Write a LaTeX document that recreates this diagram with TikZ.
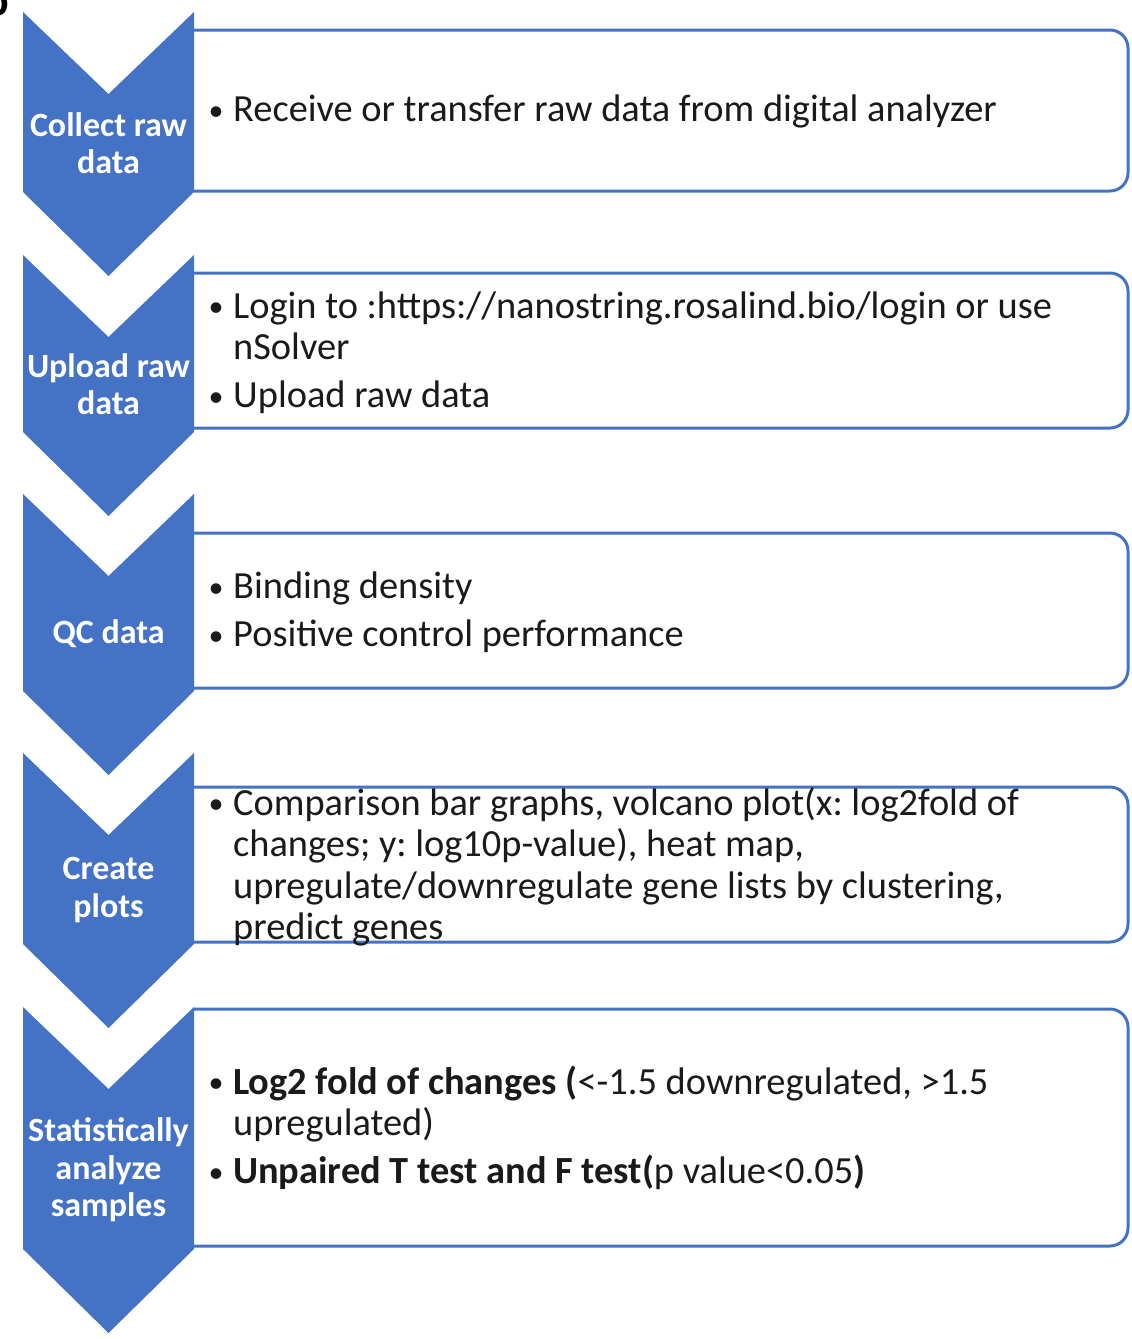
\documentclass[tikz,border=0pt]{standalone}
\usepackage{fontspec}
\setmainfont{Carlito}
\frenchspacing
\definecolor{sablue}{HTML}{4472C4}
\definecolor{txt}{HTML}{1A1A1A}
\tikzset{
  chev/.style={fill=sablue, draw=none},
  listbox/.style={draw=sablue, line width=3pt, rounded corners=18pt, fill=white},
  chevlabel/.style={text=white, font=\bfseries\fontsize{34}{37.5}\selectfont, align=center, inner sep=0pt},
  boxtext/.style={text=txt, anchor=west, text width=915pt, align=left, font=\fontsize{38.4}{41.5}\selectfont, inner sep=0pt},
}
\newcommand{\bulletglyph}{{\fontsize{30}{30}\selectfont\raisebox{1.5pt}{•}}}
\newcommand{\bul}[1]{\par\noindent\makebox[23pt][l]{\hspace{-1.5pt}\bulletglyph}\parbox[t]{885pt}{\raggedright\frenchspacing\spaceskip=0pt\xspaceskip=0pt #1\par\xdef\lastdp{\the\prevdepth}}\par\prevdepth=\lastdp\relax}
\newcommand{\psk}{\setlength{\parskip}{6.5pt}}
\begin{document}
\begin{tikzpicture}[x=1pt,y=-1pt]
\useasboundingbox (0,0) rectangle (1132,1339);
\node[anchor=base east, font=\bfseries\fontsize{44}{44}\selectfont, inner sep=0pt] (lbl) at (9,15) {b};
% boxes
\draw[listbox] (194,30) -- (1128,30) -- (1128,191) -- (194,191);
\draw[listbox] (194,273) -- (1128,273) -- (1128,428) -- (194,428);
\draw[listbox] (194,533) -- (1128,533) -- (1128,688) -- (194,688);
\draw[listbox] (194,787) -- (1128,787) -- (1128,942) -- (194,942);
\draw[listbox] (194,1009) -- (1128,1009) -- (1128,1246) -- (194,1246);
% chevrons
\foreach \t/\b in {12/192, 255/432, 494/691, 753/944, 1007/1249}{
  \fill[chev] (23,\t) -- (108.5,\t+82) -- (194,\t) -- (194,\b) -- (108.5,\b+84) -- (23,\b) -- cycle;
}
% chevron labels
\node[chevlabel] (c1) at (108.5,143) {Collect raw\\data};
\node[chevlabel] (c2) at (108.5,384) {Upload raw\\data};
\node[chevlabel] (c3) at (108.5,634) {QC data};
\node[chevlabel] (c4) at (108.5,890) {Create\\plots};
\node[chevlabel] (c5) at (108.5,1170) {Statistically\\analyze\\samples};
% box texts
\node[boxtext] (t1) at (210,101) {\psk\bul{Receive or transfer raw data from digital analyzer}};
\node[boxtext] (t2) at (210,342) {\psk\bul{Login to :https://nanostring.rosalind.bio/login or use\\nSolver}\bul{Upload raw data}};
\node[boxtext] (t3) at (210,602) {\psk\bul{Binding density}\bul{Positive control performance}};
\node[boxtext] (t4) at (210,857) {\psk\bul{Comparison bar graphs, volcano plot(x: log2fold of\\changes; y: log10p-value), heat map,\\upregulate/downregulate gene lists by clustering,\\predict genes}};
\node[boxtext] (t5) at (210,1118) {\psk\bul{\textbf{Log2 fold of changes (}<-1.5 downregulated, >1.5\\upregulated)}\bul{\textbf{Unpaired T test and F test(}p value<0.05\textbf{)}}};
\end{tikzpicture}
\end{document}
